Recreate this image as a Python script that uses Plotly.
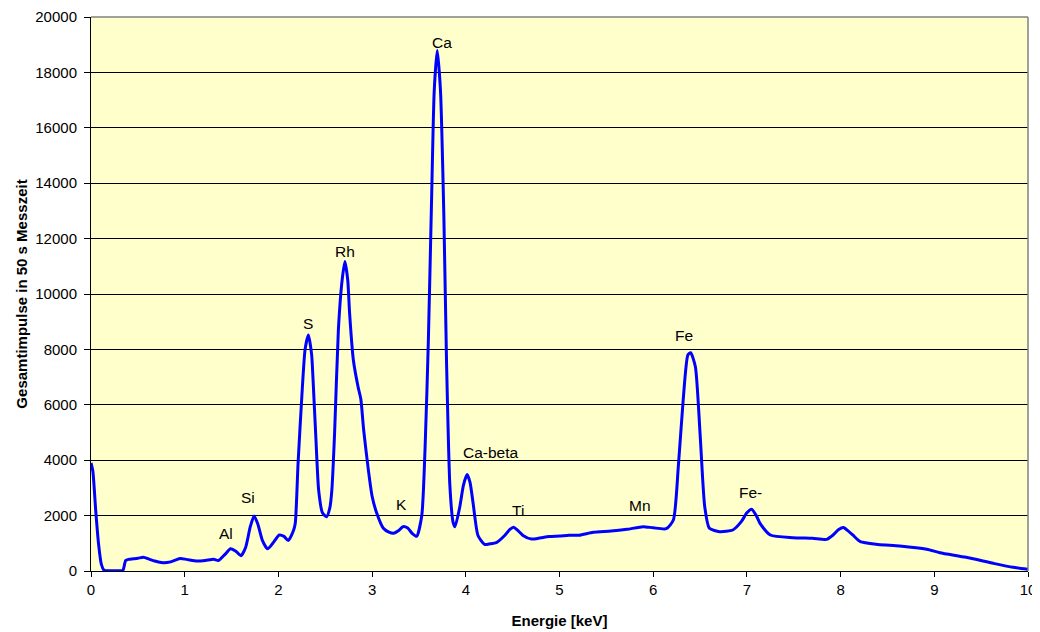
import plotly.graph_objects as go

# Spectrum (energy in keV, counts in 50 s)
energy = [0.00, 0.02, 0.05, 0.08, 0.11, 0.14, 0.20, 0.30, 0.34, 0.37, 0.40, 0.45, 0.50, 0.56,
          0.62, 0.68, 0.77, 0.85, 0.95, 1.02, 1.13, 1.22, 1.31, 1.36, 1.43, 1.49, 1.55, 1.60,
          1.65, 1.70, 1.74, 1.78, 1.83, 1.885, 1.94, 2.01, 2.06, 2.105, 2.16, 2.18, 2.21, 2.25,
          2.285, 2.32, 2.355, 2.37, 2.40, 2.43, 2.47, 2.515, 2.55, 2.57, 2.60, 2.64, 2.68, 2.71,
          2.74, 2.76, 2.80, 2.85, 2.88, 2.91, 2.96, 3.00, 3.05, 3.12, 3.18, 3.23, 3.28, 3.33,
          3.38, 3.43, 3.475, 3.53, 3.565, 3.60, 3.635, 3.663, 3.695, 3.73, 3.766, 3.794, 3.83,
          3.865, 3.885, 3.936, 3.975, 4.014, 4.045, 4.078, 4.13, 4.20, 4.26, 4.326, 4.415, 4.47,
          4.51, 4.56, 4.61, 4.70, 4.80, 4.89, 5.005, 5.10, 5.21, 5.36, 5.55, 5.72, 5.894, 6.00,
          6.14, 6.215, 6.268, 6.32, 6.37, 6.40, 6.45, 6.50, 6.55, 6.60, 6.71, 6.85, 6.94, 7.00,
          7.05, 7.10, 7.14, 7.25, 7.49, 7.70, 7.85, 7.92, 7.98, 8.03, 8.08, 8.13, 8.21, 8.40,
          8.63, 8.92, 9.06, 9.34, 9.63, 9.84, 10.0]
counts = [3900, 3600, 2200, 1000, 250, 30, 10, 10, 20, 380, 420, 440, 460, 500,
          430, 360, 300, 330, 450, 420, 360, 380, 420, 380, 600, 800, 700, 550,
          850, 1600, 1990, 1700, 1100, 800, 1000, 1300, 1250, 1100, 1450, 1722, 3900, 6300,
          8000, 8520, 7800, 6900, 4800, 2900, 2100, 1960, 2300, 2900, 5000, 8700, 10500, 11170,
          10500, 9300, 7617, 6650, 6200, 5090, 3650, 2700, 2083, 1541, 1400, 1360, 1450, 1600,
          1550, 1350, 1250, 2000, 4400, 8270, 13445, 17330, 18800, 17330, 12800, 7620, 3090,
          1750, 1600, 2317, 3100, 3481, 3200, 2447, 1282, 958, 980, 1023, 1282, 1500,
          1580, 1450, 1282, 1152, 1200, 1243, 1263, 1290, 1290, 1397, 1440, 1505, 1600, 1560,
          1527, 1841, 3765, 6173, 7798, 7881, 7375, 4971, 2321, 1541, 1419, 1480, 1781, 2100,
          2227, 2000, 1721, 1300, 1203, 1180, 1143, 1300, 1500, 1570, 1450, 1300, 1058, 960,
          903, 783, 662, 493, 277, 132, 60]

# Peak labels
peak_labels = ["Al", "Si", "S", "Rh", "K", "Ca", "Ca-beta", "Ti", "Mn", "Fe", "Fe-"]
peak_label_x = [1.44, 1.68, 2.316, 2.711, 3.316, 3.75, 4.27, 4.557, 5.864, 6.331, 7.042]
peak_label_y = [1372, 2653, 8942, 11552, 2383, 19080, 4270, 2174, 2354, 8520, 2827]

FONT = "Liberation Sans, Arial, sans-serif"

fig = go.Figure()
fig.add_trace(go.Scatter(
    x=energy, y=counts, mode="lines",
    line=dict(color="#0000FF", width=3, shape="spline", smoothing=0.6),
    hoverinfo="skip", showlegend=False,
))

for t, x, y in zip(peak_labels, peak_label_x, peak_label_y):
    fig.add_annotation(x=x, y=y, text=t, showarrow=False, xanchor="center", yanchor="middle",
                       font=dict(family=FONT, size=15.5, color="#000000"))

# grey plot-area frame on the top and right
fig.add_shape(type="line", xref="paper", yref="paper", x0=0, x1=1, y0=1, y1=1,
              line=dict(color="#808080", width=1.5), layer="above")
fig.add_shape(type="line", xref="paper", yref="paper", x0=1, x1=1, y0=0, y1=1,
              line=dict(color="#808080", width=1.5), layer="above")

# the page body adds an 8px offset, so the figure is 8px smaller than the window
fig.update_layout(
    width=1032, height=624,
    margin=dict(l=83, r=12, t=9, b=61),
    paper_bgcolor="#FFFFFF", plot_bgcolor="#FFFFCC",
    font=dict(family=FONT, size=15, color="#000000"),
    xaxis=dict(
        range=[0, 10], dtick=1, tick0=0, showgrid=False, zeroline=False,
        showline=True, linecolor="#000000", linewidth=1,
        ticks="outside", ticklen=5, tickcolor="#000000",
        tickfont=dict(family=FONT, size=15), automargin=False,
        title=dict(text="<b>Energie [keV]</b>", font=dict(family=FONT, size=15), standoff=18),
    ),
    yaxis=dict(
        range=[0, 20000], dtick=2000, tick0=0, tickformat="d",
        showgrid=True, gridcolor="#000000", gridwidth=1,
        zeroline=False, showline=True, linecolor="#000000", linewidth=1,
        ticks="outside", ticklen=6, tickcolor="#000000", ticklabelstandoff=4,
        tickfont=dict(family=FONT, size=15), automargin=False,
        title=dict(text="<b>Gesamtimpulse in 50 s Messzeit</b>", font=dict(family=FONT, size=15), standoff=4),
    ),
)

fig.write_html("out.html")
